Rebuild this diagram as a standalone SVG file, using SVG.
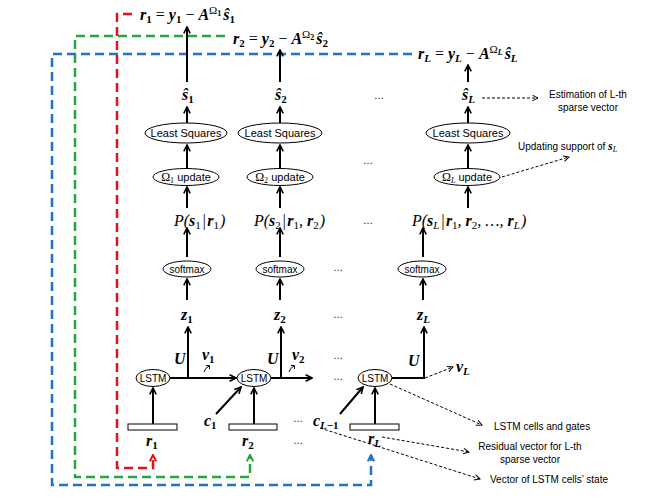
<svg xmlns="http://www.w3.org/2000/svg" width="664" height="498" viewBox="0 0 664 498">
<defs>
<style>
.ln{stroke:#000;stroke-width:2;fill:none;marker-end:url(#ah)}
.dl{stroke:#000;stroke-width:1;stroke-dasharray:3 2;fill:none;marker-end:url(#ahd)}
.rd{stroke:#e3111b;stroke-width:2.5;stroke-dasharray:9 5;fill:none;marker-end:url(#ahr)}
.gr{stroke:#27a540;stroke-width:2.5;stroke-dasharray:9 5;fill:none;marker-end:url(#ahg)}
.bl{stroke:#1f74c4;stroke-width:2.5;stroke-dasharray:9 5;fill:none;marker-end:url(#ahb)}
ellipse{fill:#fff;stroke:#000;stroke-width:1}
rect.box{fill:#fff;stroke:#000;stroke-width:1}
.lab{font-family:"Liberation Sans",Arial,sans-serif;font-size:11px;text-anchor:middle}
.ann{font-family:"Liberation Sans",Arial,sans-serif;font-size:10px}
.dot{font-family:"Liberation Sans",Arial,sans-serif;font-size:10px;text-anchor:middle}
.m{font-family:"Liberation Serif","DejaVu Serif",serif;font-weight:bold;font-style:italic;font-size:16px}
.p{font-family:"Liberation Serif","DejaVu Serif",serif;font-style:italic;font-size:16px}
.b{font-weight:bold;font-style:italic}
.n{font-weight:normal;font-style:normal}
.s{font-size:11px;font-style:normal}
.si{font-size:11px;font-style:italic}
.ss{font-size:8px;font-style:normal}
</style>
<marker id="ah" viewBox="0 0 10 10" refX="9" refY="5" markerWidth="8" markerHeight="8" markerUnits="userSpaceOnUse" orient="auto"><path d="M1,1 L9,5 L1,9" fill="none" stroke="#000" stroke-width="2"/></marker>
<marker id="ahd" viewBox="0 0 10 10" refX="9" refY="5" markerWidth="7" markerHeight="7" markerUnits="userSpaceOnUse" orient="auto"><path d="M1,1 L9,5 L1,9" fill="none" stroke="#000" stroke-width="1.4"/></marker>
<marker id="ahr" viewBox="0 0 10 10" refX="9" refY="5" markerWidth="8" markerHeight="8" markerUnits="userSpaceOnUse" orient="auto"><path d="M1,1 L9,5 L1,9" fill="none" stroke="#e3111b" stroke-width="2.5"/></marker>
<marker id="ahg" viewBox="0 0 10 10" refX="9" refY="5" markerWidth="8" markerHeight="8" markerUnits="userSpaceOnUse" orient="auto"><path d="M1,1 L9,5 L1,9" fill="none" stroke="#27a540" stroke-width="2.5"/></marker>
<marker id="ahb" viewBox="0 0 10 10" refX="9" refY="5" markerWidth="8" markerHeight="8" markerUnits="userSpaceOnUse" orient="auto"><path d="M1,1 L9,5 L1,9" fill="none" stroke="#1f74c4" stroke-width="2.5"/></marker>
</defs>
<rect x="0" y="0" width="664" height="498" fill="#fff"/>

<g id="connectors">
<path class="rd" d="M132,14 H117 V468 H153 V455"/>
<path class="gr" d="M225,36 H75 V477 H250 V455"/>
<path class="bl" d="M412,54 H52 V485 H371 V455"/>
<line class="ln" x1="187" y1="82" x2="187" y2="27"/>
<line class="ln" x1="187" y1="123" x2="187" y2="107"/>
<line class="ln" x1="187" y1="169" x2="187" y2="145"/>
<line class="ln" x1="187" y1="208" x2="187" y2="187"/>
<line class="ln" x1="187" y1="257" x2="187" y2="228"/>
<line class="ln" x1="187" y1="300" x2="187" y2="279"/>
<line class="ln" x1="170" y1="378" x2="236" y2="378"/>
<line class="ln" x1="188" y1="378" x2="188" y2="327"/>
<line class="ln" x1="153" y1="424" x2="153" y2="388"/>
<line class="ln" x1="280" y1="82" x2="280" y2="50"/>
<line class="ln" x1="280" y1="123" x2="280" y2="107"/>
<line class="ln" x1="280" y1="169" x2="280" y2="145"/>
<line class="ln" x1="280" y1="208" x2="280" y2="187"/>
<line class="ln" x1="280" y1="257" x2="280" y2="228"/>
<line class="ln" x1="280" y1="300" x2="280" y2="279"/>
<line class="ln" x1="271" y1="378" x2="312" y2="378"/>
<line class="ln" x1="281" y1="378" x2="281" y2="327"/>
<line class="ln" x1="254" y1="424" x2="254" y2="388"/>
<line class="ln" x1="216" y1="414" x2="241" y2="387"/>
<line class="ln" x1="468" y1="82" x2="468" y2="65"/>
<line class="ln" x1="468" y1="123" x2="468" y2="107"/>
<line class="ln" x1="468" y1="169" x2="468" y2="145"/>
<line class="ln" x1="468" y1="208" x2="468" y2="187"/>
<line class="ln" x1="423" y1="257" x2="423" y2="228"/>
<line class="ln" x1="423" y1="300" x2="423" y2="279"/>
<path class="ln" d="M392,378 H424 V327"/>
<line class="ln" x1="375" y1="424" x2="375" y2="388"/>
<line class="ln" x1="340" y1="414" x2="363" y2="387"/>
<line class="dl" x1="482" y1="98" x2="538" y2="98"/>
<line class="dl" x1="502" y1="177" x2="569" y2="157"/>
<line class="dl" x1="425" y1="378" x2="453" y2="367"/>
<line class="dl" x1="390" y1="384" x2="482" y2="425"/>
<line class="dl" x1="382" y1="437" x2="469" y2="452"/>
<line class="dl" x1="320" y1="428" x2="480" y2="479"/>
<path d="M204,372 Q205,368 209,366 M206,365.5 L209.5,365.5 L209.5,369" fill="none" stroke="#000" stroke-width="1"/>
<path d="M289,372 Q290,368 294,366 M291,365.5 L294.5,365.5 L294.5,369" fill="none" stroke="#000" stroke-width="1"/>
</g>

<g id="eq1"><text class="m" x="140" y="20">r<tspan class="s" dy="3">1</tspan><tspan class="n" dy="-3"> = </tspan>y<tspan class="s" dy="3">1</tspan><tspan class="n" dy="-3"> − </tspan>A<tspan class="s n" dy="-6">Ω</tspan><tspan class="ss" dy="2">1</tspan><tspan dy="4" dx="2">ŝ</tspan><tspan class="s" dy="3">1</tspan></text></g>
<g id="eq2"><text class="m" x="233" y="44">r<tspan class="s" dy="3">2</tspan><tspan class="n" dy="-3"> = </tspan>y<tspan class="s" dy="3">2</tspan><tspan class="n" dy="-3"> − </tspan>A<tspan class="s n" dy="-6">Ω</tspan><tspan class="ss" dy="2">2</tspan><tspan dy="4" dx="2">ŝ</tspan><tspan class="s" dy="3">2</tspan></text></g>
<g id="eqL"><text class="m" x="418" y="59">r<tspan class="si" dy="3">L</tspan><tspan class="n" dy="-3"> = </tspan>y<tspan class="si" dy="3">L</tspan><tspan class="n" dy="-3"> − </tspan>A<tspan class="s n" dy="-6">Ω</tspan><tspan class="ss" style="font-style:italic" dy="2">L</tspan><tspan dy="4" dx="2">ŝ</tspan><tspan class="si" dy="3">L</tspan></text></g>

<g id="s1"><text class="m" x="182" y="100">ŝ<tspan class="s" dy="3">1</tspan></text></g>
<g id="s2"><text class="m" x="275" y="100">ŝ<tspan class="s" dy="3">2</tspan></text></g>
<g id="sL"><text class="m" x="462" y="100">ŝ<tspan class="si" dy="3">L</tspan></text></g>

<g id="ls1"><ellipse cx="186" cy="133" rx="41" ry="10"/><text class="lab" x="186" y="137">Least Squares</text></g>
<g id="ls2"><ellipse cx="280" cy="133" rx="42" ry="10"/><text class="lab" x="280" y="137">Least Squares</text></g>
<g id="lsL"><ellipse cx="468" cy="133" rx="42" ry="10"/><text class="lab" x="468" y="137">Least Squares</text></g>

<g id="om1"><ellipse cx="186" cy="177" rx="33" ry="8.5"/><text class="lab" x="186" y="181"><tspan style="font-family:'Liberation Serif',serif;font-size:12px">Ω</tspan><tspan style="font-family:'Liberation Serif',serif;font-size:8px" dy="2">1</tspan><tspan dy="-2"> update</tspan></text></g>
<g id="om2"><ellipse cx="280" cy="177" rx="33" ry="8.5"/><text class="lab" x="280" y="181"><tspan style="font-family:'Liberation Serif',serif;font-size:12px">Ω</tspan><tspan style="font-family:'Liberation Serif',serif;font-size:8px" dy="2">2</tspan><tspan dy="-2"> update</tspan></text></g>
<g id="omL"><ellipse cx="467" cy="177" rx="33" ry="8.5"/><text class="lab" x="467" y="181"><tspan style="font-family:'Liberation Serif',serif;font-size:12px">Ω</tspan><tspan style="font-family:'Liberation Serif',serif;font-size:8px;font-style:italic" dy="2">L</tspan><tspan dy="-2"> update</tspan></text></g>

<g id="p1"><text class="p" x="174" y="226">P(<tspan class="b">s</tspan><tspan class="s" dy="3">1</tspan><tspan dy="-3" dx="1">|</tspan><tspan class="b" dx="1">r</tspan><tspan class="s" dy="3">1</tspan><tspan dy="-3" dx="1">)</tspan></text></g>
<g id="p2"><text class="p" x="254" y="226">P(<tspan class="b">s</tspan><tspan class="s" dy="3">2</tspan><tspan dy="-3" dx="1">|</tspan><tspan class="b" dx="1">r</tspan><tspan class="s" dy="3">1</tspan><tspan dy="-3">, </tspan><tspan class="b">r</tspan><tspan class="s" dy="3">2</tspan><tspan dy="-3" dx="1">)</tspan></text></g>
<g id="pL"><text class="p" x="412" y="226">P(<tspan class="b">s</tspan><tspan class="si" dy="3">L</tspan><tspan dy="-3" dx="1">|</tspan><tspan class="b" dx="1">r</tspan><tspan class="s" dy="3">1</tspan><tspan dy="-3">, </tspan><tspan class="b">r</tspan><tspan class="s" dy="3">2</tspan><tspan dy="-3">, …, </tspan><tspan class="b">r</tspan><tspan class="si" dy="3">L</tspan><tspan dy="-3" dx="1">)</tspan></text></g>

<g id="sm1"><ellipse cx="187" cy="269" rx="24" ry="8"/><text class="lab" x="187" y="273" style="font-size:10px">softmax</text></g>
<g id="sm2"><ellipse cx="280" cy="269" rx="24" ry="8"/><text class="lab" x="280" y="273" style="font-size:10px">softmax</text></g>
<g id="smL"><ellipse cx="422" cy="269" rx="24" ry="8"/><text class="lab" x="422" y="273" style="font-size:10px">softmax</text></g>

<g id="z1"><text class="m" x="181" y="320">z<tspan class="s" dy="3">1</tspan></text></g>
<g id="z2"><text class="m" x="274" y="320">z<tspan class="s" dy="3">2</tspan></text></g>
<g id="zL"><text class="m" x="417" y="320">z<tspan class="si" dy="3">L</tspan></text></g>

<g id="u1"><text class="m" x="174" y="364">U</text></g>
<g id="u2"><text class="m" x="267" y="364">U</text></g>
<g id="uL"><text class="m" x="408" y="366">U</text></g>
<g id="v1"><text class="m" x="202" y="360">v<tspan class="s" dy="3">1</tspan></text></g>
<g id="v2"><text class="m" x="292" y="360">v<tspan class="s" dy="3">2</tspan></text></g>
<g id="vL"><text class="m" x="456" y="372">v<tspan class="si" dy="3">L</tspan></text></g>

<g id="lstm1"><ellipse cx="153" cy="378" rx="17" ry="8.5"/><text class="lab" x="153" y="382" style="font-size:10px">LSTM</text></g>
<g id="lstm2"><ellipse cx="254" cy="378" rx="17" ry="8.5"/><text class="lab" x="254" y="382" style="font-size:10px">LSTM</text></g>
<g id="lstmL"><ellipse cx="375" cy="378" rx="17" ry="8.5"/><text class="lab" x="375" y="382" style="font-size:10px">LSTM</text></g>

<g id="r1"><rect class="box" x="128" y="424" width="49" height="6"/><text class="m" x="146" y="446">r<tspan class="s" dy="3">1</tspan></text></g>
<g id="r2"><rect class="box" x="229" y="424" width="48" height="6"/><text class="m" x="242" y="446">r<tspan class="s" dy="3">2</tspan></text></g>
<g id="rL"><rect class="box" x="350" y="424" width="49" height="6"/><text class="m" x="368" y="444">r<tspan class="si" dy="3">L</tspan></text></g>

<g id="c1"><text class="m" x="204" y="426">c<tspan class="s" dy="3">1</tspan></text></g>
<g id="cL"><text class="m" x="313" y="426">c<tspan class="si" dy="3">L</tspan><tspan class="s">−1</tspan></text></g>

<g id="ellipses-dots">
<text class="dot" x="379" y="99">…</text>
<text class="dot" x="368" y="164">…</text>
<text class="dot" x="368" y="224">…</text>
<text class="dot" x="338" y="271">…</text>
<text class="dot" x="338" y="318">…</text>
<text class="dot" x="338" y="359">…</text>
<text class="dot" x="338" y="380">…</text>
<text class="dot" x="298" y="422">…</text>
<text class="dot" x="298" y="444">…</text>
</g>

<g id="annotations">
<text class="ann" x="588" y="97.5" text-anchor="middle">Estimation of L-th</text>
<text class="ann" x="588" y="110.5" text-anchor="middle">sparse vector</text>
<text class="ann" x="518" y="150">Updating support of <tspan class="m" style="font-size:12px">s</tspan><tspan style="font-family:'Liberation Serif',serif;font-style:italic;font-size:8px" dy="2">L</tspan></text>
<text class="ann" x="494" y="430">LSTM cells and gates</text>
<text class="ann" x="530" y="450" text-anchor="middle">Residual vector for L-th</text>
<text class="ann" x="530" y="463" text-anchor="middle">sparse vector</text>
<text class="ann" x="490" y="483">Vector of LSTM cells’ state</text>
</g>
</svg>
